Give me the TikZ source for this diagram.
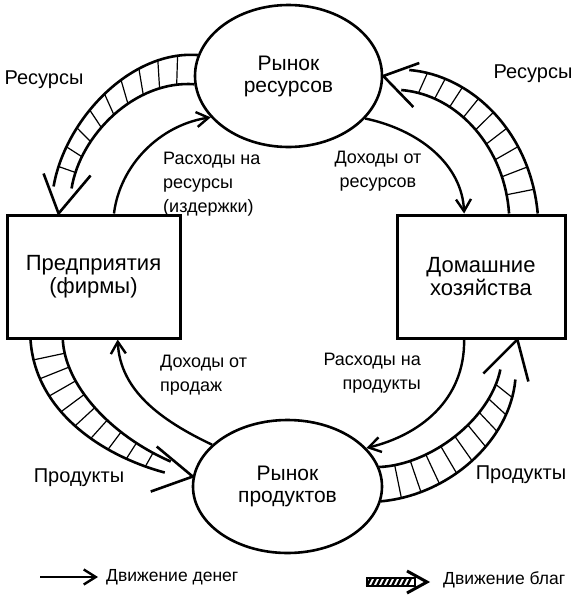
\documentclass[tikz,border=0pt]{standalone}
\usepackage{fontspec}
\setmainfont{Liberation Sans}
\usetikzlibrary{shapes.geometric,arrows.meta,calc}

\tikzset{
  market/.style={draw=black, line width=2.6pt, ellipse, inner sep=0pt, align=center,
    font=\fontsize{21}{22}\selectfont},
  agent/.style={draw=black, line width=3pt, rectangle, inner sep=0pt, align=center,
    font=\fontsize{22}{23}\selectfont},
  money/.style={line width=2.4pt, -{Straight Barb[length=12pt,width=15pt]}},
  band/.style={line width=2.6pt},
  hatch/.style={line width=1.2pt},
  barb/.style={line width=2.6pt, line join=miter},
  flowlabel/.style={inner sep=0pt, font=\fontsize{20}{22}\selectfont},
  costlabel/.style={inner sep=0pt, font=\fontsize{18}{24}\selectfont},
  legendlabel/.style={inner sep=0pt, font=\fontsize{17.5}{19}\selectfont}
}

\begin{document}
\begin{tikzpicture}[x=1pt, y=-1pt]
\useasboundingbox (0,0) rectangle (578,603);

% markets and agents
\node[market, minimum width=187pt, minimum height=142pt] (resmkt) at (288.5,76) {Рынок\\ресурсов};
\node[market, minimum width=189pt, minimum height=133pt] (prodmkt) at (287.5,486.5) {Рынок\\продуктов};
\node[agent, minimum width=173pt, minimum height=123pt] (firms) at (93.5,276.5) {Предприятия\\(фирмы)};
\node[agent, minimum width=168pt, minimum height=123pt] (hh) at (481,276.5) {Домашние\\хозяйства};

% money flows
\draw[money] (firms.72) .. controls (120,165) and (160,125) .. (resmkt.208);
\draw[money] (resmkt.331) .. controls (420,130) and (462,165) .. (hh.105);
\draw[money] (prodmkt.151) .. controls (160,420) and (120,390) .. (firms.291);
\draw[money] (hh.255) .. controls (465,400) and (420,435) .. (prodmkt.26);

% flows of goods: resources to firms
\draw[band] (resmkt.167) .. controls (130,50) and (65,120) .. ($(firms.119)+(-5,-27)$)
  foreach \k in {1,...,9} {coordinate[pos=0.\k] (tlo\k)};
\draw[band] (resmkt.185) .. controls (135,80) and (80,135) .. ($(firms.119)+(13,-25)$)
  foreach \k in {1,...,9} {coordinate[pos=0.\k] (tli\k)};
\foreach \k in {1,...,9} \draw[hatch] (tlo\k) -- (tli\k);
\draw[barb] ($(firms.119)+(-15,-40)$) -- (firms.119) -- ++(32,-38);

% resources from households
\draw[band] (hh.48) .. controls (530,130) and (470,75) .. ($(resmkt.east)+(26,-6)$)
  foreach \k in {1,...,9} {coordinate[pos=0.\k] (tro\k)};
\draw[band] (hh.66) .. controls (505,150) and (460,95) .. ($(resmkt.east)+(18,14)$)
  foreach \k in {1,...,9} {coordinate[pos=0.\k] (tri\k)};
\foreach \k in {1,...,9} \draw[hatch] (tro\k) -- (tri\k);
\draw[barb] ($(resmkt.east)+(36,-13)$) -- (resmkt.east) -- ++(30,31);

% products from firms
\draw[band] (firms.225) .. controls (35,410) and (100,455) .. ($(prodmkt.174)+(-28,-4)$)
  foreach \k in {1,...,9} {coordinate[pos=0.\k] (blo\k)};
\draw[band] (firms.244) .. controls (65,385) and (110,435) .. ($(prodmkt.174)+(-22,-15)$)
  foreach \k in {1,...,9} {coordinate[pos=0.\k] (bli\k)};
\foreach \k in {1,...,9} \draw[hatch] (blo\k) -- (bli\k);
\draw[barb] ($(prodmkt.174)+(-36,-30)$) -- (prodmkt.174) -- ++(-42,15);

% products to households
\draw[band] (prodmkt.351) .. controls (450,495) and (510,440) .. ($(hh.300)+(-2,40)$)
  foreach \k in {1,...,9} {coordinate[pos=0.\k] (bro\k)};
\draw[band] (prodmkt.12) .. controls (430,465) and (490,420) .. ($(hh.300)+(-17,30)$)
  foreach \k in {1,...,9} {coordinate[pos=0.\k] (bri\k)};
\foreach \k in {1,...,9} \draw[hatch] (bro\k) -- (bri\k);
\draw[barb] ($(hh.300)+(-34,34)$) -- (hh.300) -- ++(11,42);

% labels
\node[flowlabel] (resl) at (44,80) {Ресурсы};
\node[flowlabel] (resr) at (533,74) {Ресурсы};
\node[flowlabel] (prodl) at (79,478) {Продукты};
\node[flowlabel] (prodr) at (521,475) {Продукты};
\node[costlabel, align=left, anchor=west] (costres) at (163,184) {Расходы на\\ресурсы\\(издержки)};
\node[costlabel, align=center] (incres) at (378,171) {Доходы от\\ресурсов};
\node[costlabel, align=left, anchor=west] (incsales) at (160,375) {Доходы от\\продаж};
\node[costlabel, align=right, anchor=east] (costprod) at (421,373) {Расходы на\\продукты};

% legend
\coordinate (mstart) at (40,577);
\coordinate (mend) at (98,577);
\draw[money] (mstart) -- (mend);
\node[legendlabel, anchor=west] (mleg) at (106,577) {Движение денег};
\coordinate (gstart) at (367,582);
\coordinate (gend) at (427,582);
\draw[line width=2.4pt] ($(gstart)+(0,-4)$) rectangle ($(gstart)+(48,4)$);
\foreach \x in {4,9,...,46} \draw[line width=2.4pt] ($(gstart)+(\x,-4)$) -- ++(-4,8);
\draw[barb, line width=3pt] ($(gend)+(-20,-11)$) -- (gend) -- ++(-20,11);
\node[legendlabel, anchor=west] (gleg) at (443,580) {Движение благ};
\end{tikzpicture}
\end{document}
